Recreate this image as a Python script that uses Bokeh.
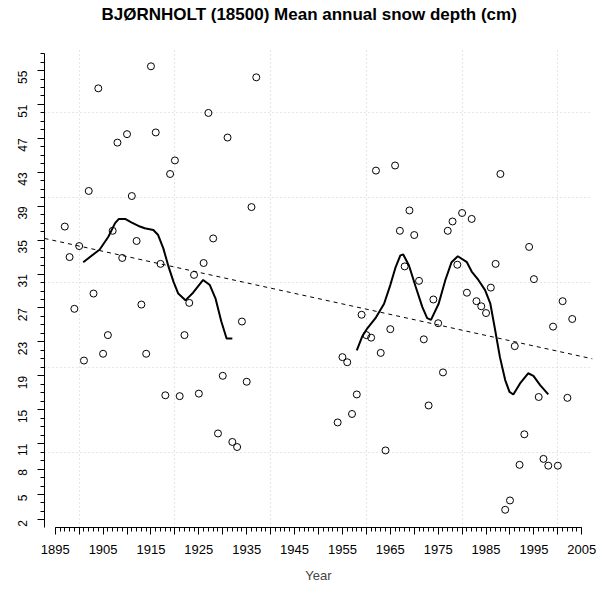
import math
from bokeh.plotting import figure
from bokeh.models import FixedTicker, Range1d, Title
from bokeh.embed import file_html
from bokeh.resources import INLINE

# ---- data ----
years_early = list(range(1897, 1938))
snow_early = [36.6, 33.0, 26.9, 34.3, 20.8, 40.8, 28.7, 52.9, 21.6, 23.8,
              36.1, 46.5, 32.9, 47.5, 40.2, 34.9, 27.4, 21.6, 55.5, 47.7,
              32.2, 16.7, 42.8, 44.4, 16.6, 23.8, 27.6, 30.9, 16.9, 32.3,
              50.0, 35.2, 12.2, 19.0, 47.1, 11.2, 10.6, 25.4, 18.3, 38.9, 54.2]

years_late = list(range(1954, 2004))
snow_late = [13.5, 21.2, 20.6, 14.5, 16.8, 26.2, 23.8, 23.5, 43.2, 21.7,
             10.2, 24.5, 43.8, 36.1, 31.9, 38.5, 35.6, 30.2, 23.3, 15.5,
             28.0, 25.2, 19.4, 36.1, 37.2, 32.1, 38.2, 28.8, 37.5, 27.8,
             27.2, 26.4, 29.4, 32.2, 42.8, 3.2, 4.3, 22.5, 8.5, 12.1,
             34.2, 30.4, 16.5, 9.2, 8.4, 24.8, 8.4, 27.8, 16.4, 25.7]

# smoothed curves (traced)
smooth1_x = [1900.85, 1904.3, 1906.1, 1907.5, 1908.3, 1909.6, 1910.9, 1912.7,
             1913.7, 1915.5, 1916.5, 1917.6, 1918.6, 1919.7, 1920.7, 1922.2,
             1923.8, 1925.9, 1927.3, 1928.5, 1929.7, 1930.8, 1932.0]
smooth1_y = [32.4, 33.9, 35.4, 37.0, 37.5, 37.5, 37.1, 36.6,
             36.4, 36.2, 35.6, 34.0, 32.0, 30.1, 28.7, 27.9,
             28.8, 30.3, 29.7, 28.1, 25.4, 23.4, 23.4]

smooth2_x = [1958.0, 1959.1, 1960.2, 1961.9, 1963.7, 1965.0, 1966.1, 1967.1,
             1967.7, 1968.9, 1970.3, 1971.7, 1972.7, 1973.5, 1975.1, 1976.5,
             1977.8, 1979.1, 1981.0, 1982.0, 1983.4, 1984.8, 1985.9, 1986.9,
             1987.9, 1989.0, 1989.9, 1990.7, 1992.1, 1993.8, 1994.9, 1996.3,
             1998.0]
smooth2_y = [22.0, 23.6, 24.6, 25.8, 27.5, 29.7, 31.8, 33.2,
             33.3, 32.0, 29.5, 27.1, 25.8, 25.6, 27.5, 30.3,
             32.4, 33.1, 32.4, 31.3, 30.3, 29.1, 27.5, 24.4,
             21.2, 18.5, 17.1, 16.8, 18.1, 19.3, 19.0, 17.9,
             16.8]

# linear trend (end points read at plot edges)
trend_x = [1892.76, 2007.24]
trend_y = [35.2, 21.0]

x_tick_years = list(range(1895, 2006, 5))
x_minor_years = list(range(1895, 2006))
y_tick_values = [2, 5, 8, 11, 15, 19, 23, 27, 31, 35, 39, 43, 47, 51, 55]
y_minor_values = list(range(1, 58))
x_grid_years = [1900, 1920, 1940, 1960, 1980, 2000]
y_grid_values = [10, 20, 30, 40, 50]

title_text = "BJ\u00d8RNHOLT (18500) Mean annual snow depth (cm)"
FONT = "Liberation Sans"

p = figure(width=608, height=588, output_backend="svg", toolbar_location=None,
           x_range=Range1d(1892.76, 2007.24), y_range=Range1d(1.11, 57.6),
           min_border_left=44, min_border_right=16, min_border_top=48,
           min_border_bottom=61, title=None)
p.outline_line_color = None
p.background_fill_color = "white"
p.border_fill_color = "white"

# spacer panel between the frame and the title (first added = nearest frame)
spacer = Title(text=" ", text_font_size="1px", standoff=16)
p.add_layout(spacer, "above")

main_title = Title(text=title_text, text_font=FONT, text_font_size="17px",
                   text_font_style="bold", text_color="black",
                   align="left", offset=57, vertical_align="top", standoff=8)
p.add_layout(main_title, "above")

# grids
p.xgrid.ticker = FixedTicker(ticks=x_grid_years)
p.ygrid.ticker = FixedTicker(ticks=y_grid_values)
for g in (p.xgrid, p.ygrid):
    g.grid_line_color = "#cccccc"
    g.grid_line_dash = "1 3"
    g.grid_line_width = 1

# x axis
xa = p.xaxis[0]
xa.ticker = FixedTicker(ticks=x_tick_years, minor_ticks=x_minor_years)
xa.bounds = (1895, 2005)
xa.major_label_overrides = {y: ("" if (y - 1895) % 10 else str(y)) for y in x_tick_years}
xa.major_tick_out = 7
xa.major_tick_in = 0
xa.minor_tick_out = 4
xa.minor_tick_in = 0
xa.major_label_standoff = 10
xa.major_label_text_font = FONT
xa.major_label_text_font_size = "13px"
xa.major_label_text_color = "black"
xa.axis_label = "Year"
xa.axis_label_text_font = FONT
xa.axis_label_text_font_size = "13px"
xa.axis_label_text_font_style = "normal"
xa.axis_label_standoff = 11
xa.axis_line_color = "black"
xa.major_tick_line_color = "black"
xa.minor_tick_line_color = "black"

# y axis
ya = p.yaxis[0]
ya.ticker = FixedTicker(ticks=y_tick_values, minor_ticks=y_minor_values)
ya.bounds = (1, 57)
ya.major_label_orientation = math.pi / 2
ya.major_tick_out = 7
ya.major_tick_in = 0
ya.minor_tick_out = 4
ya.minor_tick_in = 0
ya.major_label_standoff = 15
ya.major_label_text_font = FONT
ya.major_label_text_font_size = "12px"
ya.major_label_text_color = "black"
ya.axis_line_color = "black"
ya.major_tick_line_color = "black"
ya.minor_tick_line_color = "black"

# trend
p.line(trend_x, trend_y, line_color="black", line_width=1, line_dash="4 4")

# smooth lines
p.line(smooth1_x, smooth1_y, line_color="black", line_width=2)
p.line(smooth2_x, smooth2_y, line_color="black", line_width=2)

# points
p.scatter(years_early, snow_early, size=7, marker="circle",
          fill_color=None, line_color="black", line_width=1)
p.scatter(years_late, snow_late, size=7, marker="circle",
          fill_color=None, line_color="black", line_width=1)

open("out.html", "w").write(file_html(p, INLINE))
